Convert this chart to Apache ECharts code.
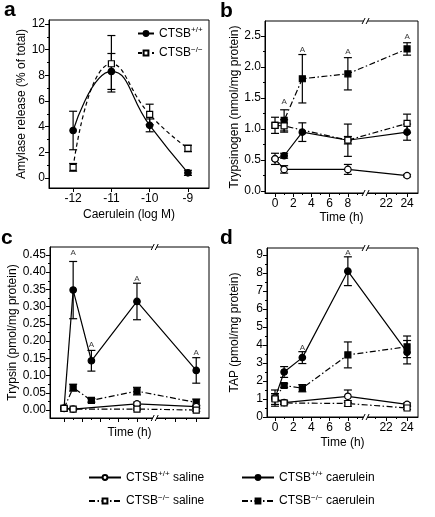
<!DOCTYPE html>
<html><head><meta charset="utf-8">
<script src="https://cdn.jsdelivr.net/npm/echarts@6/dist/echarts.min.js"></script>
<style>html,body{margin:0;padding:0;background:#fff}#c{width:435px;height:517px}</style>
</head><body><div id="c"></div><script>
// ---------- data ----------
const aDose = [-12, -11, -10, -9];
const aWT = [3.7, 8.3, 4.1, 0.4];
const aWTerr = [1.5, 1.4, 0.5, 0.2];
const aKO = [0.83, 8.9, 4.95, 2.3];
const aKOerr = [0.3, 2.2, 0.8, 0.25];

const cTimes = [0, 1, 3, 8, 24];   // caerulein time points (h)
const sTimes = [0, 1, 8, 24];      // saline time points (h)
const timeTicks = [0, 2, 4, 6, 8, 22, 24];
const timeMinor = [1, 3, 5, 7, 9, 21, 23];

const bWTsal = [0.52, 0.35, 0.35, 0.25];
const bWTsalErr = [0.09, 0.06, 0.08, 0.02];
const bKOsal = [1.06, 1.05, 0.82, 1.09];
const bKOsalErr = [0.13, 0.1, 0.06, 0.15];
const bWTcae = [0.52, 0.57, 0.95, 0.82, 0.95];
const bWTcaeErr = [0, 0.04, 0.15, 0.26, 0.13];
const bKOcae = [1.06, 1.14, 1.81, 1.89, 2.29];
const bKOcaeErr = [0, 0.17, 0.39, 0.26, 0.1];
const bSigT = [1, 3, 8, 24];
const bSigY = [1.44, 2.27, 2.24, 2.48];

const cWTsal = [0.005, 0.003, 0.018, 0.01];
const cWTsalErr = [0.003, 0.002, 0.005, 0.004];
const cKOsal = [0.005, 0.003, 0.003, 0.0];
const cKOsalErr = [0.003, 0.002, 0.003, 0.004];
const cWTcae = [0.005, 0.348, 0.143, 0.315, 0.115];
const cWTcaeErr = [0, 0.083, 0.03, 0.053, 0.037];
const cKOcae = [0.005, 0.065, 0.028, 0.055, 0.022];
const cKOcaeErr = [0, 0.01, 0.005, 0.011, 0.01];
const cSigT = [1, 3, 8, 24];
const cSigY = [0.455, 0.189, 0.382, 0.167];

const dWTsal = [1.05, 0.8, 1.15, 0.7];
const dWTsalErr = [0.45, 0.1, 0.35, 0.08];
const dKOsal = [1.0, 0.78, 0.75, 0.5];
const dKOsalErr = [0.3, 0.08, 0.15, 0.08];
const dWTcae = [1.05, 2.5, 3.3, 8.1, 3.6];
const dWTcaeErr = [0, 0.3, 0.33, 0.8, 0.65];
const dKOcae = [1.05, 1.75, 1.6, 3.45, 3.9];
const dKOcaeErr = [0, 0.1, 0.2, 0.72, 0.6];
const dSigT = [3, 8];
const dSigY = [3.86, 9.1];

const aYTicks = [0, 2, 4, 6, 8, 10, 12];
const aYMinor = [1, 3, 5, 7, 9, 11];
const bYTicks = [0, 0.5, 1.0, 1.5, 2.0, 2.5];
const bYMinor = [0.25, 0.75, 1.25, 1.75, 2.25];
const cYTicks = [0, 0.05, 0.1, 0.15, 0.2, 0.25, 0.3, 0.35, 0.4, 0.45];
const cYMinor = [0.025, 0.075, 0.125, 0.175, 0.225, 0.275, 0.325, 0.375, 0.425];
const dYTicks = [0, 1, 2, 3, 4, 5, 6, 7, 8, 9];
const dYMinor = [0.5, 1.5, 2.5, 3.5, 4.5, 5.5, 6.5, 7.5, 8.5];

// ---------- broken time axis mapping ----------
const BREAK_POS = 10;
function xPos(t) { return t <= 10 ? t : 12.2 + (t - 22) * 1.15; }
function tLabel(p) {
  for (const t of timeTicks) if (Math.abs(xPos(t) - p) < 1e-6) return String(t);
  return '';
}

const FONT = '"Liberation Sans", Arial, Helvetica, sans-serif';
const chart = echarts.init(document.getElementById('c'), null, {renderer: 'canvas'});

const sup = {
  n: {fontSize: 12, fontFamily: FONT, color: '#000'},
  s: {fontSize: 8, fontFamily: FONT, color: '#000', padding: [0, 0, 7, 0]}
};
const nameMap = {
  'CTSB+/+': '{n|CTSB}{s|+/+}',
  'CTSB-/-': '{n|CTSB}{s|\u2212/\u2212}',
  'CTSB+/+ saline': '{n|CTSB}{s|+/+}{n| saline}',
  'CTSB-/- saline': '{n|CTSB}{s|\u2212/\u2212}{n| saline}',
  'CTSB+/+ caerulein': '{n|CTSB}{s|+/+}{n| caerulein}',
  'CTSB-/- caerulein': '{n|CTSB}{s|\u2212/\u2212}{n| caerulein}'
};

const grids = [
  {left: 49, top: 20, width: 160, height: 168},
  {left: 265, top: 21, width: 153, height: 172},
  {left: 50, top: 247, width: 159, height: 171},
  {left: 267, top: 248, width: 151, height: 169}
].map(g => Object.assign({show: true, borderColor: '#000', borderWidth: 1, backgroundColor: 'transparent'}, g));

const xRanges = [[-12.63, -8.45], [-1.1, 15.7], [-1.54, 15.9], [-0.88, 15.7]];
const yRanges = [[-0.78, 12.31], [-0.03, 2.74], [-0.023, 0.473], [0, 9.39]];

function xAxisDef(gi, ticks, fmt, showLabels, name, nameGap) {
  return {
    gridIndex: gi, type: 'value', min: xRanges[gi][0], max: xRanges[gi][1],
    axisLine: {show: true, onZero: false, lineStyle: {color: '#000', width: 1}},
    axisTick: {show: true, customValues: ticks, length: 4, lineStyle: {color: '#000', width: 1}},
    axisLabel: {show: showLabels, customValues: ticks, formatter: fmt, color: '#000', fontSize: 12, fontFamily: FONT, margin: 5},
    splitLine: {show: false},
    name, nameLocation: 'middle', nameGap,
    nameTextStyle: {color: '#000', fontSize: 12, fontFamily: FONT}
  };
}
function yAxisDef(gi, ticks, fmt, name, nameGap) {
  return {
    gridIndex: gi, type: 'value', min: yRanges[gi][0], max: yRanges[gi][1],
    axisLine: {show: true, onZero: false, lineStyle: {color: '#000', width: 1}},
    axisTick: {show: true, customValues: ticks, length: 4, lineStyle: {color: '#000', width: 1}},
    axisLabel: {customValues: ticks, formatter: fmt, color: '#000', fontSize: 12, fontFamily: FONT, margin: 4},
    splitLine: {show: false},
    name, nameLocation: 'middle', nameGap, nameRotate: 90,
    nameTextStyle: {color: '#000', fontSize: 12, fontFamily: FONT}
  };
}
// helper axes that only carry short minor ticks
function minorAxis(kind, gi, ticks) {
  const r = kind === 'x' ? xRanges[gi] : yRanges[gi];
  return {
    gridIndex: gi, type: 'value', min: r[0], max: r[1],
    position: kind === 'x' ? 'bottom' : 'left',
    axisLine: {show: false, onZero: false},
    axisTick: {show: true, customValues: ticks, length: 2, lineStyle: {color: '#000', width: 1}},
    axisLabel: {show: false, customValues: ticks},
    splitLine: {show: false}
  };
}

const xAxes = [
  xAxisDef(0, aDose, v => String(v), true, 'Caerulein (log M)', 21),
  xAxisDef(1, timeTicks.map(xPos), tLabel, true, 'Time (h)', 19),
  xAxisDef(2, timeTicks.map(xPos), tLabel, false, 'Time (h)', 9),
  xAxisDef(3, timeTicks.map(xPos), tLabel, true, 'Time (h)', 20),
  minorAxis('x', 1, timeMinor.map(xPos)),
  minorAxis('x', 2, timeMinor.map(xPos)),
  minorAxis('x', 3, timeMinor.map(xPos))
];
const yAxes = [
  yAxisDef(0, aYTicks, v => String(v), 'Amylase release (% of total)', 21),
  yAxisDef(1, bYTicks, v => v.toFixed(1), 'Trypsinogen (nmol/mg protein)', 20),
  yAxisDef(2, cYTicks, v => v.toFixed(2), 'Trypsin (pmol/mg protein)', 27),
  yAxisDef(3, dYTicks, v => String(v), 'TAP (pmol/mg protein)', 26),
  minorAxis('y', 0, aYMinor),
  minorAxis('y', 1, bYMinor),
  minorAxis('y', 2, cYMinor),
  minorAxis('y', 3, dYMinor)
];

const DASHDOT = [6, 2.5, 1.5, 2.5];
const STY = {
  wtSal: {symbol: 'circle', fill: '#fff', dash: 'solid'},
  koSal: {symbol: 'rect', fill: '#fff', dash: DASHDOT},
  wtCae: {symbol: 'circle', fill: '#000', dash: 'solid'},
  koCae: {symbol: 'rect', fill: '#000', dash: DASHDOT}
};

function lineSeries(name, gi, xs, ys, sty, z, extra) {
  return Object.assign({
    type: 'line', name, xAxisIndex: gi, yAxisIndex: gi, z,
    data: xs.map((x, i) => [x, ys[i]]),
    symbol: sty.symbol, symbolSize: sty.symbol === 'rect' ? 6 : 6.5,
    showAllSymbol: true,
    itemStyle: {color: sty.fill, borderColor: '#000', borderWidth: 1.2},
    lineStyle: {color: '#000', width: 1.2, type: sty.dash},
    emphasis: {disabled: true}, animation: false, clip: false
  }, extra || {});
}
function errSeries(gi, xs, ys, es, z) {
  return {
    type: 'custom', xAxisIndex: gi, yAxisIndex: gi, z, silent: true, animation: false, clip: false,
    data: xs.map((x, i) => [x, ys[i] - es[i], ys[i] + es[i]]).filter(d => d[2] - d[1] > 1e-9),
    encode: {x: 0, y: [1, 2]},
    renderItem(params, api) {
      const lo = api.coord([api.value(0), api.value(1)]);
      const hi = api.coord([api.value(0), api.value(2)]);
      const w = 4;
      const st = {stroke: '#000', lineWidth: 1.2};
      return {type: 'group', children: [
        {type: 'line', shape: {x1: lo[0], y1: lo[1], x2: hi[0], y2: hi[1]}, style: st},
        {type: 'line', shape: {x1: lo[0] - w, y1: lo[1], x2: lo[0] + w, y2: lo[1]}, style: st},
        {type: 'line', shape: {x1: hi[0] - w, y1: hi[1], x2: hi[0] + w, y2: hi[1]}, style: st}
      ]};
    }
  };
}
function sigSeries(gi, ts, ys) {
  return {
    type: 'scatter', xAxisIndex: gi, yAxisIndex: gi, z: 20, silent: true, animation: false,
    data: ts.map((t, i) => [xPos(t), ys[i]]),
    symbolSize: 1, itemStyle: {color: 'rgba(0,0,0,0)'},
    label: {show: true, position: 'inside', formatter: 'A', fontSize: 8, fontFamily: FONT, color: '#000'}
  };
}

const series = [];
// panel a
series.push(errSeries(0, aDose, aWT, aWTerr, 3));
series.push(errSeries(0, aDose, aKO, aKOerr, 3));
series.push(lineSeries('CTSB+/+', 0, aDose, aWT, {symbol: 'circle', fill: '#000', dash: 'solid'}, 5, {smooth: 0.5}));
series.push(lineSeries('CTSB-/-', 0, aDose, aKO, {symbol: 'rect', fill: '#fff', dash: [4, 3]}, 6, {smooth: 0.5}));

// panels b, c, d
const panels = [
  [1, bWTsal, bWTsalErr, bKOsal, bKOsalErr, bWTcae, bWTcaeErr, bKOcae, bKOcaeErr, bSigT, bSigY],
  [2, cWTsal, cWTsalErr, cKOsal, cKOsalErr, cWTcae, cWTcaeErr, cKOcae, cKOcaeErr, cSigT, cSigY],
  [3, dWTsal, dWTsalErr, dKOsal, dKOsalErr, dWTcae, dWTcaeErr, dKOcae, dKOcaeErr, dSigT, dSigY]
];
const sX = sTimes.map(xPos), cX = cTimes.map(xPos);
panels.forEach(([gi, ws, wse, ks, kse, wc, wce, kc, kce, sigT, sigY]) => {
  series.push(errSeries(gi, cX, wc, wce, 2));
  series.push(errSeries(gi, cX, kc, kce, 2));
  series.push(errSeries(gi, sX, ws, wse, 2));
  series.push(errSeries(gi, sX, ks, kse, 2));
  series.push(lineSeries('CTSB+/+ caerulein', gi, cX, wc, STY.wtCae, 4));
  series.push(lineSeries('CTSB-/- caerulein', gi, cX, kc, STY.koCae, 4));
  series.push(lineSeries('CTSB+/+ saline', gi, sX, ws, STY.wtSal, 6));
  series.push(lineSeries('CTSB-/- saline', gi, sX, ks, STY.koSal, 6));
  series.push(sigSeries(gi, sigT, sigY));
});

function legendDef(data, left, top, w, gap) {
  return {
    data, left, top, orient: 'vertical', itemWidth: w, itemHeight: 6, itemGap: gap,
    selectedMode: false, padding: 0,
    formatter: n => nameMap[n],
    textStyle: {rich: sup, color: '#000', fontSize: 12, fontFamily: FONT}
  };
}

const titles = [['a', 4, 0], ['b', 220, 1], ['c', 1, 228], ['d', 220, 228]].map(([t, l, tp]) => ({
  text: t, left: l, top: tp, padding: 0,
  textStyle: {fontSize: 21, fontWeight: 'bold', fontFamily: FONT, color: '#000'}
}));

chart.setOption({
  backgroundColor: '#fff',
  animation: false,
  title: titles,
  grid: grids,
  xAxis: xAxes,
  yAxis: yAxes,
  legend: [
    legendDef(['CTSB+/+', 'CTSB-/-'], 137, 26, 16, 6),
    legendDef(['CTSB+/+ saline', 'CTSB-/- saline'], 88, 470, 32, 10),
    legendDef(['CTSB+/+ caerulein', 'CTSB-/- caerulein'], 241, 470, 32, 10)
  ],
  series
});

// break marks "//" on top and bottom frame at the axis break
const gs = [];
[1, 2, 3].forEach(gi => {
  const x = chart.convertToPixel({xAxisIndex: gi}, BREAK_POS);
  const yTop = chart.convertToPixel({yAxisIndex: gi}, yRanges[gi][1]);
  const yBot = chart.convertToPixel({yAxisIndex: gi}, yRanges[gi][0]);
  [yTop, yBot].forEach(y => {
    gs.push({type: 'polygon', z: 100, shape: {points: [[x - 4, y + 3], [x - 1, y - 3], [x + 3, y - 3], [x, y + 3]]}, style: {fill: '#fff'}});
    gs.push({type: 'line', z: 101, shape: {x1: x - 4, y1: y + 3, x2: x - 1, y2: y - 3}, style: {stroke: '#000', lineWidth: 1}});
    gs.push({type: 'line', z: 101, shape: {x1: x, y1: y + 3, x2: x + 3, y2: y - 3}, style: {stroke: '#000', lineWidth: 1}});
  });
});
chart.setOption({graphic: gs});
</script></body></html>
